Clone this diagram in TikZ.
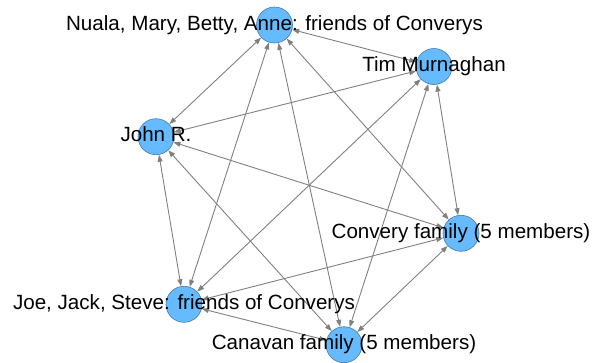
\documentclass[tikz,border=0pt]{standalone}
\usepackage{fontspec}
\setmainfont{Liberation Sans}
\usetikzlibrary{arrows.meta,backgrounds}
\definecolor{vfill}{RGB}{102,187,255}
\definecolor{vborder}{RGB}{70,120,175}
\definecolor{edgegray}{RGB}{128,128,128}
\begin{document}
\begin{tikzpicture}[x=1pt,y=-1pt,
  vertex/.style={circle,draw=vborder,fill=vfill,minimum size=36pt,inner sep=0pt,line width=0.6pt},
  tie/.style={draw=edgegray,line width=0.9pt,
    {Triangle[length=7pt,width=5pt]}-{Triangle[length=7pt,width=5pt]}},
  vlabel/.style={font=\fontsize{20.6}{24}\selectfont,anchor=base,inner sep=0pt,
    text=black,yshift=-5pt}]
\useasboundingbox (0,0) rectangle (592,362);

% vertices
\node[vertex] (nuala) at (274.5,25) {};
\node[vertex] (tim) at (434,66.5) {};
\node[vertex] (john) at (156,136.7) {};
\node[vertex] (convery) at (461,233.3) {};
\node[vertex] (joe) at (184,304.3) {};
\node[vertex] (canavan) at (344,344.7) {};

% every pair of vertices is linked both ways, drawn beneath the vertices
\begin{scope}[on background layer]
\foreach \a/\b in {nuala/tim, nuala/john, nuala/convery, nuala/joe, nuala/canavan,
                   tim/john, tim/convery, tim/joe, tim/canavan,
                   john/convery, john/joe, john/canavan,
                   convery/joe, convery/canavan,
                   joe/canavan}
  \draw[tie] (\a) -- (\b);
\end{scope}

% labels
\node[vlabel] (nuala-t) at (nuala) {Nuala, Mary, Betty, Anne: friends of Converys};
\node[vlabel] (tim-t) at (tim) {Tim Murnaghan};
\node[vlabel] (john-t) at (john) {John R.};
\node[vlabel] (convery-t) at (convery) {Convery family (5 members)};
\node[vlabel] (joe-t) at (joe) {Joe, Jack, Steve: friends of Converys};
\node[vlabel] (canavan-t) at (canavan) {Canavan family (5 members)};
\end{tikzpicture}
\end{document}
